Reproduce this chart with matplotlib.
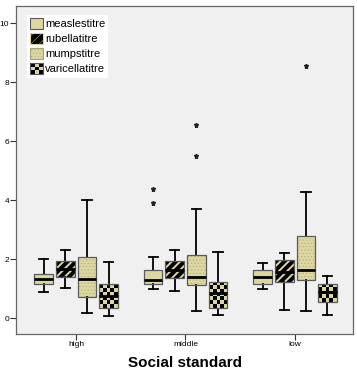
import matplotlib
matplotlib.use('Agg')
import matplotlib.pyplot as plt
import numpy as np
from matplotlib.patches import Patch, PathPatch, Rectangle
from matplotlib.legend_handler import HandlerBase
from matplotlib.colors import ListedColormap

plt.rcParams['font.family'] = ['Liberation Sans', 'DejaVu Sans']

groups = ['high', 'middle', 'low']
series = ['measlestitre', 'rubellatitre', 'mumpstitre', 'varicellatitre']

# rows: series, columns: groups (high, middle, low)
whislo = [[0.89, 0.98, 0.99],
          [1.03, 0.93, 0.27],
          [0.17, 0.25, 0.23],
          [0.08, 0.09, 0.09]]
q1 = [[1.15, 1.14, 1.16],
      [1.39, 1.37, 1.21],
      [0.72, 1.11, 1.28],
      [0.35, 0.34, 0.54]]
med = [[1.34, 1.29, 1.40],
       [1.68, 1.63, 1.57],
       [1.32, 1.39, 1.64],
       [0.76, 0.84, 0.89]]
q3 = [[1.51, 1.63, 1.62],
      [1.95, 1.94, 1.97],
      [2.07, 2.15, 2.79],
      [1.16, 1.23, 1.16]]
whishi = [[1.99, 2.06, 1.88],
          [2.32, 2.32, 2.21],
          [4.01, 3.71, 4.28],
          [1.89, 2.25, 1.42]]
fliers = [[[], [4.36, 3.91], []],
          [[], [], []],
          [[], [6.56, 5.49], [8.54]],
          [[], [], []]]

TAN = '#dcd7a0'
offsets = [-0.295, -0.098, 0.1, 0.297]

fig = plt.figure(figsize=(3.57, 3.76), dpi=100)
ax = fig.add_axes([16/357, 1-334/376, 337/357, 328/376])
ax.set_facecolor('#f0f0f0')
ax.set_xlim(-0.548, 2.53)
ax.set_ylim(-0.54, 10.58)

styles = [dict(facecolor=TAN, edgecolor=TAN, hatch=None),
          dict(facecolor='black', edgecolor=TAN, hatch='////'),
          dict(facecolor=TAN, edgecolor='#a8a27a', hatch='.....'),
          dict(facecolor=TAN, edgecolor=TAN, hatch=None)]
hatch_lw = [0.5, 1.4, 0.3, 0.5]

all_boxes = []
for k in range(4):
    stats = []
    for g in range(3):
        stats.append(dict(whislo=whislo[k][g], q1=q1[k][g], med=med[k][g],
                          q3=q3[k][g], whishi=whishi[k][g], fliers=fliers[k][g]))
    plt.rcParams['hatch.linewidth'] = hatch_lw[k]
    res = ax.bxp(stats, positions=[g + offsets[k] for g in range(3)], widths=0.17,
                 patch_artist=True, manage_ticks=False,
                 boxprops=dict(facecolor=styles[k]['facecolor'], edgecolor=styles[k]['edgecolor'],
                               hatch=styles[k]['hatch'], linewidth=0),
                 medianprops=dict(color='black', linewidth=2.0, solid_capstyle='butt'),
                 whiskerprops=dict(color='black', linewidth=1.3),
                 capprops=dict(color='black', linewidth=1.3),
                 flierprops=dict(marker='*', markerfacecolor='#222222', markeredgecolor='#222222',
                                 markersize=3.6, linestyle='none'))
    for b in res['boxes']:
        if hasattr(b, 'set_hatch_linewidth'):
            b.set_hatch_linewidth(hatch_lw[k])
        ax.add_patch(PathPatch(b.get_path(), transform=b.get_transform(), fill=False,
                               edgecolor='#5a5a5a', linewidth=0.9, zorder=2.06))
    all_boxes.append(res['boxes'])
    for m in res['medians']:
        m.set_zorder(2.1)

plt.rcParams['hatch.linewidth'] = 1.0
fig.canvas.draw()
# checkerboard fill for varicella boxes
cmap = ListedColormap([TAN, 'black'])
for b in all_boxes[3]:
    ext = b.get_path().get_extents()
    p0 = ax.transData.transform((ext.x0, ext.y0))
    p1 = ax.transData.transform((ext.x1, ext.y1))
    nx = max(1, int(round(abs(p1[0]-p0[0]) / 3.8)))
    ny = max(1, int(round(abs(p1[1]-p0[1]) / 3.8)))
    ii, jj = np.indices((ny, nx))
    board = (ii + jj) % 2
    im = ax.imshow(board, cmap=cmap, extent=(ext.x0, ext.x1, ext.y0, ext.y1),
                   aspect='auto', interpolation='nearest', zorder=2.02, origin='lower')
    im.set_clip_path(b)
ax.set_xlim(-0.548, 2.53)
ax.set_ylim(-0.54, 10.58)

ax.set_xticks(range(3))
ax.set_xticklabels(groups, fontsize=6)
ax.set_yticks([0, 2, 4, 6, 8, 10])
ax.set_yticklabels(['0', '2', '4', '6', '8', '10'], fontsize=6)
ax.tick_params(axis='both', length=4, width=0.8, color='#333333', pad=1)
for s in ax.spines.values():
    s.set_color('#666666')
    s.set_linewidth(0.9)
ax.set_xlabel('Social standard', fontsize=11, fontweight='bold', labelpad=6)


class HandlerChecker(HandlerBase):
    def create_artists(self, legend, orig_handle, xdescent, ydescent, width, height, fontsize, trans):
        arts = [Rectangle((-xdescent, -ydescent), width, height, facecolor=TAN,
                          edgecolor='none', transform=trans)]
        n = 3
        w = width / n
        h = height / n
        for i in range(n):
            for j in range(n):
                if (i + j) % 2 == 0:
                    arts.append(Rectangle((-xdescent + i * w, -ydescent + j * h), w, h,
                                          facecolor='black', edgecolor='none', transform=trans))
        arts.append(Rectangle((-xdescent, -ydescent), width, height, fill=False,
                              edgecolor='#5a5a5a', linewidth=0.8, transform=trans))
        return arts


class CheckerHandle:
    pass


plt.rcParams['hatch.linewidth'] = 1.4
h0 = Patch(facecolor=TAN, edgecolor='#5a5a5a', linewidth=0.8)
h1 = Patch(facecolor='black', edgecolor=TAN, hatch='////', linewidth=0.8)
plt.rcParams['hatch.linewidth'] = 0.3
h2 = Patch(facecolor=TAN, edgecolor='#a8a27a', hatch='.....', linewidth=0.8)
h3 = CheckerHandle()
leg = ax.legend([h0, h1, h2, h3], series, loc='upper left',
                bbox_to_anchor=(0.033, 0.973), borderaxespad=0, fontsize=8,
                frameon=True, fancybox=False, facecolor='white', edgecolor='none',
                framealpha=1, handlelength=1.1, handleheight=1.1, handletextpad=0.2,
                labelspacing=0.35, borderpad=0.3,
                handler_map={CheckerHandle: HandlerChecker()})

fig.savefig('out.png', dpi=100, facecolor='white')
